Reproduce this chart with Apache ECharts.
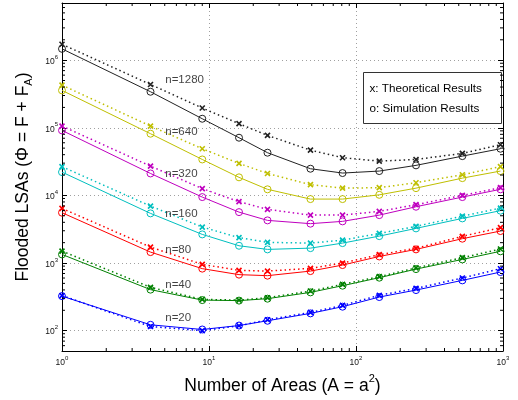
<!DOCTYPE html>
<html>
<head>
<meta charset="utf-8">
<script src="https://cdn.jsdelivr.net/npm/echarts@6/dist/echarts.min.js"></script>
<style>
  html, body { margin: 0; padding: 0; background: #fff; }
  #chart { width: 518px; height: 400px; }
</style>
</head>
<body>
<div id="chart"></div>
<script>
// number of areas A = a^2
const areas = [1, 4, 9, 16, 25, 49, 81, 144, 256, 529, 961];
const nodeLabels = ['n=1280', 'n=640', 'n=320', 'n=160', 'n=80', 'n=40', 'n=20'];
const colors = ['#222222', '#bfbf00', '#bf00bf', '#00bfbf', '#ff0000', '#008000', '#0000ff'];

// o: simulation results
const sim1280 = [1.47e6, 3.41e5, 1.36e5, 7.13e4, 4.28e4, 2.48e4, 2.14e4, 2.29e4, 2.78e4, 3.81e4, 4.90e4];
const sim640  = [3.57e5, 8.17e4, 3.40e4, 1.85e4, 1.23e4, 8.82e3, 8.82e3, 1.02e4, 1.28e4, 1.80e4, 2.29e4];
const sim320  = [9.14e4, 2.11e4, 9.44e3, 5.66e3, 4.27e3, 3.82e3, 4.13e3, 5.11e3, 6.80e3, 9.44e3, 1.23e4];
const sim160  = [2.21e4, 5.42e3, 2.65e3, 1.80e3, 1.59e3, 1.66e3, 1.97e3, 2.50e3, 3.25e3, 4.57e3, 5.94e3];
const sim80   = [5.55e3, 1.45e3, 826, 673, 650, 760, 933, 1250, 1590, 2290, 2970];
const sim40   = [1340, 404, 283, 278, 297, 368, 462, 607, 813, 1130, 1490];
const sim20   = [324, 122, 104, 119, 140, 180, 226, 314, 398, 554, 735];

// x: theoretical results
const theo1280 = [1.72e6, 4.37e5, 1.96e5, 1.15e5, 7.71e4, 4.67e4, 3.61e4, 3.21e4, 3.40e4, 4.18e4, 5.61e4];
const theo640  = [4.27e5, 1.06e5, 4.90e4, 2.97e4, 2.11e4, 1.44e4, 1.28e4, 1.30e4, 1.54e4, 2.02e4, 2.66e4];
const theo320  = [1.06e5, 2.71e4, 1.26e4, 8.09e3, 6.21e3, 5.11e3, 5.11e3, 5.80e3, 7.29e3, 1.00e4, 1.30e4];
const theo160  = [2.66e4, 6.95e3, 3.40e3, 2.37e3, 2.02e3, 1.97e3, 2.18e3, 2.74e3, 3.48e3, 4.94e3, 6.49e3];
const theo80   = [6.42e3, 1.72e3, 955, 778, 760, 834, 998, 1330, 1650, 2480, 3330];
const theo40   = [1500, 437, 290, 283, 307, 385, 483, 628, 847, 1200, 1610];
const theo20   = [330, 115, 100, 118, 145, 186, 236, 333, 422, 600, 824];

const simSets = [sim1280, sim640, sim320, sim160, sim80, sim40, sim20];
const theoSets = [theo1280, theo640, theo320, theo160, theo80, theo40, theo20];

// where the n= labels sit
const labelArea = 5;
const labelValues = [5.06e5, 8.63e4, 2.07e4, 5.42e3, 1.59e3, 484, 156];

const xMin = 1, xMax = 1000, yMin = 50, yMax = 7e6;
const FONT = 'Liberation Sans';

// minor log ticks (2..9 in each decade)
const minorX = [], minorY = [];
for (let d = 1; d < 1000; d *= 10) for (let k = 2; k <= 9; k++) minorX.push(k * d);
for (let d = 10; d < 1e7; d *= 10) for (let k = 2; k <= 9; k++) {
    const v = k * d;
    if (v > yMin && v < yMax) minorY.push(v);
}

const powLabel = v => '{b|10}{s|' + Math.round(Math.log10(v)) + '}';
const powRich = {
    b: { fontSize: 8.5, fontFamily: FONT, color: '#111', lineHeight: 12, verticalAlign: 'bottom' },
    s: { fontSize: 6, fontFamily: FONT, color: '#111', lineHeight: 7, verticalAlign: 'top' }
};

function minorTicks(values, isX) {
    return {
        type: 'custom',
        silent: true,
        animation: false,
        clip: false,
        z: 5,
        data: values.map(v => isX ? [v, yMin] : [xMin, v]),
        renderItem(params, api) {
            const cs = params.coordSys;
            const p = api.coord([api.value(0), api.value(1)]);
            const L = 3;
            const segs = isX
                ? [[p[0], cs.y + cs.height, p[0], cs.y + cs.height - L], [p[0], cs.y, p[0], cs.y + L]]
                : [[cs.x, p[1], cs.x + L, p[1]], [cs.x + cs.width, p[1], cs.x + cs.width - L, p[1]]];
            return {
                type: 'group',
                children: segs.map(s => ({
                    type: 'line',
                    shape: { x1: s[0], y1: s[1], x2: s[2], y2: s[3] },
                    style: { stroke: '#000', lineWidth: 1 }
                }))
            };
        }
    };
}

const series = [];
simSets.forEach((vals, i) => {
    series.push({
        name: nodeLabels[i] + ' sim',
        type: 'line',
        data: areas.map((a, j) => [a, vals[j]]),
        symbol: 'circle',
        symbolSize: 7,
        itemStyle: { color: 'rgba(0,0,0,0)', borderColor: colors[i], borderWidth: 1 },
        lineStyle: { color: colors[i], width: 1 },
        animation: false,
        z: 3
    });
});
theoSets.forEach((vals, i) => {
    series.push({
        name: nodeLabels[i] + ' theory',
        type: 'line',
        data: areas.map((a, j) => [a, vals[j]]),
        symbol: 'path://M0,0L10,10M10,0L0,10',
        symbolSize: 5,
        itemStyle: { color: 'none', borderColor: colors[i], borderWidth: 1.6 },
        lineStyle: { color: colors[i], width: 1.5, type: [1.5, 3] },
        animation: false,
        z: 4
    });
});
series.push({
    name: 'labels',
    type: 'scatter',
    data: labelValues.map((v, i) => [labelArea, v, nodeLabels[i]]),
    symbolSize: 1,
    itemStyle: { color: 'rgba(0,0,0,0)' },
    label: {
        show: true, position: 'right', distance: 0,
        formatter: p => p.data[2],
        fontSize: 11.5, fontFamily: FONT, color: '#111'
    },
    silent: true,
    animation: false,
    z: 6
});
series.push(minorTicks(minorX, true));
series.push(minorTicks(minorY, false));

const gridLine = { show: true, lineStyle: { color: '#a0a0a0', type: [1, 3], width: 1 } };
const tick = { show: true, inside: true, length: 5, lineStyle: { color: '#000' } };

const chart = echarts.init(document.getElementById('chart'));
chart.setOption({
    backgroundColor: '#fff',
    animation: false,
    grid: { left: 62, right: 15, top: 3, bottom: 48 },
    xAxis: [{
        type: 'log', min: xMin, max: xMax, position: 'bottom',
        axisLine: { show: true, lineStyle: { color: '#000', width: 1 } },
        axisTick: tick,
        splitLine: gridLine,
        axisLabel: { formatter: powLabel, rich: powRich, margin: 4, showMinLabel: true, showMaxLabel: true },
        name: '{t|Number of Areas (A = a}{sup|2}{t|)}',
        nameLocation: 'middle',
        nameGap: 22,
        nameTextStyle: {
            rich: {
                t: { fontSize: 17.5, fontFamily: FONT, color: '#000', lineHeight: 22, verticalAlign: 'bottom' },
                sup: { fontSize: 11, fontFamily: FONT, color: '#000', lineHeight: 13, verticalAlign: 'top' }
            }
        }
    }, {
        type: 'log', min: xMin, max: xMax, position: 'top',
        axisLine: { show: true, lineStyle: { color: '#000', width: 1 } },
        axisTick: tick, axisLabel: { show: false }, splitLine: { show: false }
    }],
    yAxis: [{
        type: 'log', min: yMin, max: yMax, position: 'left',
        axisLine: { show: true, lineStyle: { color: '#000', width: 1 } },
        axisTick: tick,
        splitLine: gridLine,
        axisLabel: { formatter: powLabel, rich: powRich, margin: 4, showMinLabel: false, showMaxLabel: false },
        name: '{t|Flooded LSAs (\u03A6 = F + F}{sub|A}{t|)}',
        nameLocation: 'middle',
        nameGap: 28,
        nameTextStyle: {
            rich: {
                t: { fontSize: 17.5, fontFamily: FONT, color: '#000', lineHeight: 20, verticalAlign: 'top' },
                sub: { fontSize: 11, fontFamily: FONT, color: '#000', lineHeight: 13, verticalAlign: 'bottom', padding: [13, 0, 0, 0] }
            }
        }
    }, {
        type: 'log', min: yMin, max: yMax, position: 'right',
        axisLine: { show: true, lineStyle: { color: '#000', width: 1 } },
        axisTick: tick, axisLabel: { show: false }, splitLine: { show: false }
    }],
    graphic: [{
        type: 'group',
        left: 363, top: 72,
        children: [{
            type: 'rect',
            shape: { x: 0, y: 0, width: 138, height: 51 },
            style: { fill: '#fff', stroke: '#333', lineWidth: 1 }
        }, {
            type: 'text', x: 6, y: 16,
            style: { text: 'x: Theoretical Results', fontSize: 11.7, fontFamily: FONT, fill: '#000', verticalAlign: 'middle' }
        }, {
            type: 'text', x: 6, y: 36,
            style: { text: 'o: Simulation Results', fontSize: 11.7, fontFamily: FONT, fill: '#000', verticalAlign: 'middle' }
        }]
    }],
    series: series
});
</script>
</body>
</html>
